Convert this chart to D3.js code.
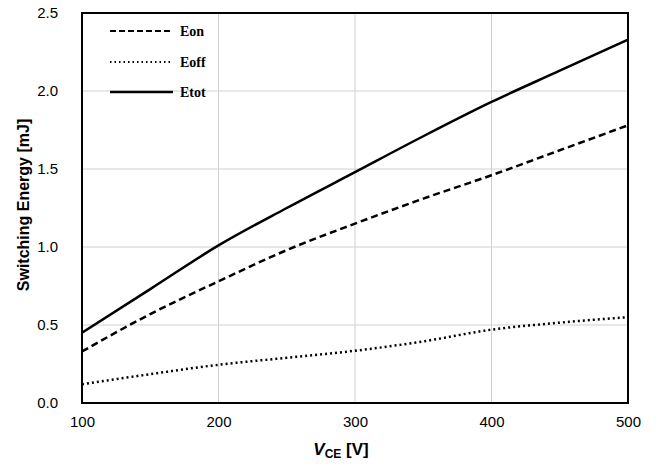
<!DOCTYPE html>
<html><head><meta charset="utf-8">
<script src="https://cdn.jsdelivr.net/npm/d3@7"></script>
<style>body{margin:0;background:#fff}</style>
</head><body>
<svg id="c" width="657" height="464"></svg>
<script>
const vce = [100, 150, 200, 250, 300, 350, 400, 450, 500];
const eon = [0.33, 0.57, 0.78, 0.98, 1.15, 1.31, 1.46, 1.62, 1.78];
const eoff = [0.12, 0.185, 0.245, 0.29, 0.335, 0.395, 0.47, 0.515, 0.55];
const etot = [0.45, 0.73, 1.01, 1.25, 1.48, 1.71, 1.93, 2.13, 2.33];
const xTicks = [100, 200, 300, 400, 500];
const yTicks = [0, 0.5, 1.0, 1.5, 2.0, 2.5];
const seriesNames = ["Eon", "Eoff", "Etot"];

const svg = d3.select("#c");
const L = 82, R = 628, T = 13, B = 403;
const x = d3.scaleLinear().domain([100, 500]).range([L, R]);
const y = d3.scaleLinear().domain([0, 2.5]).range([B, T]);

// grid
svg.append("g").selectAll("line").data(xTicks.slice(1, -1)).join("line")
  .attr("x1", d => x(d)).attr("x2", d => x(d)).attr("y1", T).attr("y2", B)
  .attr("stroke", "#d0d0d0").attr("stroke-width", 1);
svg.append("g").selectAll("line").data(yTicks.slice(1, -1)).join("line")
  .attr("y1", d => y(d)).attr("y2", d => y(d)).attr("x1", L).attr("x2", R)
  .attr("stroke", "#d0d0d0").attr("stroke-width", 1);

// axes labels
const xAxis = d3.axisBottom(x).tickValues(xTicks).tickSize(0).tickPadding(13).tickFormat(d3.format("d"));
const gx = svg.append("g").attr("transform", `translate(0,${B})`).call(xAxis);
gx.select(".domain").remove();
gx.selectAll("text").attr("font-family", "Liberation Sans, Arial, sans-serif").attr("font-size", 15).attr("fill", "#000");

const yAxis = d3.axisLeft(y).tickValues(yTicks).tickSize(0).tickPadding(24).tickFormat(d3.format(".1f"));
const gy = svg.append("g").attr("transform", `translate(${L},0)`).call(yAxis);
gy.select(".domain").remove();
gy.selectAll("text").attr("font-family", "Liberation Sans, Arial, sans-serif").attr("font-size", 15).attr("fill", "#000");

// lines
const series = [
  {name: seriesNames[0], vals: eon, dash: "7,4"},
  {name: seriesNames[1], vals: eoff, dash: "2,3"},
  {name: seriesNames[2], vals: etot, dash: null}
];
const line = d3.line().x((d, i) => x(vce[i])).y(d => y(d)).curve(d3.curveMonotoneX);
svg.append("defs").append("clipPath").attr("id", "clip").append("rect")
  .attr("x", L).attr("y", T).attr("width", R - L).attr("height", B - T);
series.forEach(s => {
  svg.append("path").attr("d", line(s.vals)).attr("fill", "none")
    .attr("stroke", "#000").attr("stroke-width", 2.5)
    .attr("stroke-dasharray", s.dash).attr("clip-path", "url(#clip)");
});

// frame
svg.append("rect").attr("x", L).attr("y", T).attr("width", R - L).attr("height", B - T)
  .attr("fill", "none").attr("stroke", "#000").attr("stroke-width", 2);

// legend
const legY = [31, 62, 92];
series.forEach((s, i) => {
  const ly = legY[i];
  svg.append("line").attr("x1", 110).attr("x2", 173).attr("y1", ly).attr("y2", ly)
    .attr("stroke", "#000").attr("stroke-width", s.dash ? 2 : 2.5)
    .attr("stroke-dasharray", s.dash ? (i === 0 ? "6,3" : "1.5,3") : null);
  svg.append("text").attr("x", 180).attr("y", ly + 5).text(s.name)
    .attr("font-family", "Liberation Serif, Times New Roman, serif").attr("font-weight", "bold")
    .attr("font-size", 14).attr("fill", "#000");
});

// axis titles
svg.append("text").attr("transform", `translate(29,205) rotate(-90)`)
  .attr("text-anchor", "middle").attr("font-family", "Liberation Sans, Arial, sans-serif")
  .attr("font-weight", "bold").attr("font-size", 16).text("Switching Energy [mJ]");
const xt = svg.append("text").attr("x", 341).attr("y", 455).attr("text-anchor", "middle")
  .attr("font-family", "Liberation Sans, Arial, sans-serif").attr("font-weight", "bold").attr("font-size", 17);
xt.append("tspan").attr("font-style", "italic").text("V");
xt.append("tspan").attr("font-size", 12).attr("dy", 3).text("CE");
xt.append("tspan").attr("dy", -3).text(" [V]");
</script>
</body></html>
